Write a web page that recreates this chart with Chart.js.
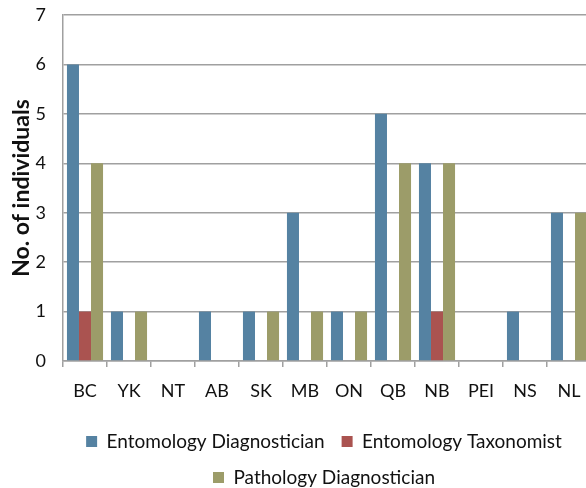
<!DOCTYPE html>
<html>
<head>
<meta charset="utf-8">
<script src="https://cdn.jsdelivr.net/npm/chart.js@4.4.1/dist/chart.umd.min.js"></script>
<style>
  html, body { margin: 0; padding: 0; background: #fff; overflow: hidden; height: 488px; }
  #wrap { width: 640px; height: 497px; }
</style>
</head>
<body>
<div id="wrap"><canvas id="chart"></canvas></div>
<script>
const provinces = ["BC","YK","NT","AB","SK","MB","ON","QB","NB","PEI","NS","NL"];
const entomologyDiagnostician = [6,1,0,1,1,3,1,5,4,0,1,3];
const entomologyTaxonomist    = [1,0,0,0,0,0,0,0,1,0,0,0];
const pathologyDiagnostician  = [4,1,0,0,1,1,1,4,4,0,0,3];
const yTicks = [0,1,2,3,4,5,6,7];

const font = "Lato, 'DejaVu Sans', sans-serif";

document.addEventListener("DOMContentLoaded", function() {
  const context = document.getElementById("chart").getContext("2d");
  new Chart(context, {
    type: "bar",
    data: {
      labels: provinces,
      datasets: [{
        label: "Entomology Diagnostician",
        data: entomologyDiagnostician,
        backgroundColor: "#5582a2"
      }, {
        label: "Entomology Taxonomist",
        data: entomologyTaxonomist,
        backgroundColor: "#aa5350"
      }, {
        label: "Pathology Diagnostician",
        data: pathologyDiagnostician,
        backgroundColor: "#9c9c69"
      }]
    },
    options: {
      responsive: true,
      maintainAspectRatio: false,
      animation: false,
      layout: { padding: { left: 8, right: 0, top: 0, bottom: 0 } },
      datasets: { bar: { categoryPercentage: 0.82, barPercentage: 1 } },
      plugins: {
        tooltip: { enabled: false },
        legend: {
          position: "bottom",
          labels: {
            boxWidth: 11, boxHeight: 11, padding: 17,
            color: "#111",
            font: { family: font, size: 19 }
          }
        }
      },
      scales: {
        x: {
          afterFit: function(axis) { axis.height = 54; },
          grid: { offset: true, drawOnChartArea: false, color: "#a0a0a0", lineWidth: 1.5, tickLength: 6 },
          border: { color: "#a0a0a0", width: 1.5 },
          ticks: { color: "#111", font: { family: font, size: 18 }, padding: 13, maxRotation: 0 }
        },
        y: {
          min: 0, max: 7,
          afterBuildTicks: function(axis) { axis.ticks = yTicks.map(v => ({ value: v })); },
          afterFit: function(axis) { axis.width = 55; axis.paddingTop = 15; },
          grid: { color: "#a0a0a0", lineWidth: 1.5, drawTicks: false },
          border: { color: "#a0a0a0", width: 1.5 },
          ticks: { color: "#111", font: { family: font, size: 18 }, padding: 17 },
          title: {
            display: true, text: "No. of individuals", color: "#111",
            font: { family: font, size: 23, weight: "bold" }, padding: { top: 0, bottom: 2 }
          }
        },
        // empty right-hand strip, the plot is cut off past the window edge
        spacer: {
          type: "linear", position: "right", display: true,
          afterFit: function(axis) { axis.width = 49; },
          grid: { display: false }, border: { display: false }, ticks: { display: false }
        }
      }
    }
  });
});
</script>
</body>
</html>
